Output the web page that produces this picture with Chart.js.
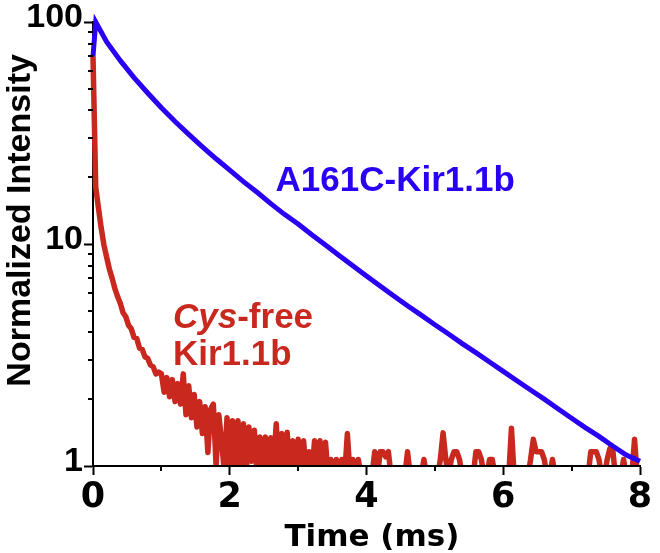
<!DOCTYPE html>
<html>
<head>
<meta charset="utf-8">
<script src="https://cdn.jsdelivr.net/npm/chart.js@4.4.1/dist/chart.umd.min.js"></script>
<style>
  html, body { margin: 0; padding: 0; background: #fff; }
  canvas { display: block; }
</style>
</head>
<body>
<canvas id="decayChart" width="660" height="553"></canvas>
<script>
// A161C-Kir1.1b (blue) - sample times in ms and normalized intensity
const blueTime = [0, 0.04, 0.2, 0.4, 0.6, 0.8, 1.0, 1.2, 1.4, 1.6, 1.8, 2.0, 2.2, 2.4, 2.6, 2.8,
    3.0, 3.2, 3.4, 3.6, 3.8, 4.0, 4.2, 4.4, 4.6, 4.8, 5.0, 5.2, 5.4, 5.6, 5.8,
    6.0, 6.2, 6.4, 6.6, 6.8, 7.0, 7.2, 7.4, 7.6, 7.8, 8.0];
const blueValues = [70, 100, 81.3, 67.0, 56.2, 47.9, 41.1, 35.6, 31.2, 27.4, 24.2, 21.5, 19.1, 17.1, 15.2, 13.6,
    12.3, 11.0, 9.89, 8.87, 7.98, 7.18, 6.47, 5.83, 5.27, 4.78, 4.33, 3.93, 3.56, 3.24, 2.94,
    2.67, 2.42, 2.20, 2.00, 1.81, 1.64, 1.49, 1.36, 1.23, 1.12, 1.05];

// Cys-free Kir1.1b (red) - sampled every 0.04 ms from 0 to 8 ms, one row per ms
const redStep = 0.04;
const redValues = [
    70, 18, 14.5, 11.8, 9.9, 8.7, 7.7, 7.0, 6.3, 5.8, 5.4, 4.9, 4.7, 4.3, 4.15, 3.8, 3.75, 3.4, 3.35, 3.1, 3.05, 2.85, 2.8, 2.6, 2.65,
    2.6, 2.15, 2.5, 2.05, 2.45, 1.95, 2.35, 1.9, 2.6, 1.7, 2.3, 1.65, 2.1, 1.5, 1.95, 1.4, 1.85, 1.15, 1.8, 1.9, 1.0, 1.7, 1.3, 0.95, 1.65,
    0.9, 1.6, 0.95, 1.6, 1.0, 1.55, 0.9, 1.5, 1.05, 1.45, 0.9, 1.35, 1.0, 1.35, 0.92, 1.34, 1.0, 1.55, 0.9, 1.4, 0.95, 1.42, 0.9, 1.3, 1.0,
    1.32, 0.9, 1.3, 0.9, 1.16, 0.9, 1.3, 1.0, 1.3, 0.9, 1.28, 0.9, 1.07, 0.9, 1.07, 0.9, 1.07, 0.9, 1.4, 0.9, 1.07, 0.9, 1.07, 0.9, 0.9,
    0.9, 0.9, 0.9, 1.16, 0.9, 1.16, 1.16, 1.1, 1.16, 0.9, 0.9, 0.9, 0.9, 0.9, 0.9, 1.16, 0.9, 0.9, 0.9, 0.9, 0.9, 1.07, 0.9, 0.9, 0.9,
    0.9, 0.9, 1.07, 1.41, 1.07, 0.9, 1.07, 1.16, 1.16, 1.07, 0.9, 0.9, 0.9, 0.9, 0.9, 1.16, 1.16, 1.07, 0.9, 0.9, 1.07, 1.07, 0.9, 0.9, 0.9,
    0.9, 0.9, 0.9, 1.48, 0.9, 0.9, 0.9, 0.9, 0.9, 0.9, 1.07, 1.32, 1.16, 1.16, 1.16, 1.07, 0.9, 0.9, 1.07, 0.9, 0.9, 0.9, 0.9, 0.9, 0.9,
    0.9, 0.9, 0.9, 0.9, 0.9, 0.9, 0.9, 1.16, 1.16, 1.16, 1.07, 0.9, 0.9, 1.07, 1.2, 1.2, 0.9, 0.9, 0.9, 1.07, 0.9, 0.9, 0.9, 1.32, 0.9, 0.9
];

const xTicks = [0, 2, 4, 6, 8];
const xMinorTicks = [1, 3, 5, 7];
const yTicks = [1, 10, 100];
const yMinorTicks = [2, 3, 4, 5, 6, 7, 8, 9, 20, 30, 40, 50, 60, 70, 80, 90];

const blueColor = '#2a00f5';
const redColor = '#c8281e';

// curve labels, placed in data units
const curveLabels = [
    { parts: [['A161C-Kir1.1b', 'bold']], x: 2.67, y: 17.4, color: blueColor },
    { parts: [['Cys', 'italic bold'], ['-free', 'bold']], x: 1.17, y: 4.17, color: redColor },
    { parts: [['Kir1.1b', 'bold']], x: 1.17, y: 2.85, color: redColor }
];

const bluePoints = blueTime.map((t, i) => ({ x: t, y: blueValues[i] }));
const redPoints = redValues.map((v, i) => ({ x: +(i * redStep).toFixed(2), y: v }));

const extraTicks = {
    id: 'extraTicks',
    afterDraw(chart) {
        const ctx = chart.ctx;
        const xs = chart.scales.x, ys = chart.scales.y;
        const area = chart.chartArea;
        ctx.save();
        ctx.strokeStyle = '#000';
        ctx.lineWidth = 2;
        ctx.beginPath();
        yMinorTicks.forEach(v => {
            const py = Math.round(ys.getPixelForValue(v));
            ctx.moveTo(area.left - 5, py);
            ctx.lineTo(area.left, py);
        });
        xMinorTicks.forEach(v => {
            const px = Math.round(xs.getPixelForValue(v));
            ctx.moveTo(px, area.bottom);
            ctx.lineTo(px, area.bottom + 5);
        });
        ctx.stroke();

        ctx.textBaseline = 'alphabetic';
        ctx.textAlign = 'left';
        curveLabels.forEach(lab => {
            let px = xs.getPixelForValue(lab.x);
            const py = ys.getPixelForValue(lab.y);
            ctx.fillStyle = lab.color;
            lab.parts.forEach(([txt, style]) => {
                ctx.font = style + " 35px 'Liberation Sans', Arial, sans-serif";
                ctx.fillText(txt, px, py);
                px += ctx.measureText(txt).width;
            });
        });
        ctx.restore();
    }
};

const ctx = document.getElementById('decayChart').getContext('2d');
const decayChart = new Chart(ctx, {
    type: 'line',
    data: {
        datasets: [{
            label: 'A161C-Kir1.1b',
            data: bluePoints,
            borderColor: blueColor,
            borderWidth: 5,
            pointRadius: 0,
            tension: 0,
            clip: { left: false, top: false, right: false, bottom: -1 }
        }, {
            label: 'Cys-free Kir1.1b',
            data: redPoints,
            borderColor: redColor,
            borderWidth: 5.5,
            borderJoinStyle: 'round',
            pointRadius: 0,
            tension: 0,
            clip: { left: false, top: false, right: false, bottom: -1 }
        }]
    },
    options: {
        responsive: false,
        animation: false,
        devicePixelRatio: 1,
        layout: { padding: { top: 22, right: 20, left: 0, bottom: 0 } },
        plugins: {
            legend: { display: false },
            tooltip: { enabled: false }
        },
        scales: {
            x: {
                type: 'linear',
                min: 0,
                max: 8,
                afterBuildTicks: s => { s.ticks = xTicks.map(v => ({ value: v })); },
                afterFit: s => { s.height = 87; },
                grid: { drawOnChartArea: false, tickLength: 9, tickWidth: 2, tickColor: '#000' },
                border: { color: '#000', width: 2 },
                ticks: {
                    color: '#000',
                    padding: 2,
                    maxRotation: 0,
                    font: { family: "'DejaVu Sans'", size: 35, weight: 'bold' }
                },
                title: {
                    display: true,
                    text: ' Time (ms)',
                    color: '#000',
                    padding: { top: 0, bottom: 0 },
                    font: { family: "'DejaVu Sans'", size: 31, weight: 'bold', lineHeight: 1.0 }
                }
            },
            y: {
                type: 'logarithmic',
                min: 1,
                max: 100,
                afterBuildTicks: s => { s.ticks = yTicks.map(v => ({ value: v })); },
                afterFit: s => { s.width = 93; },
                grid: { drawOnChartArea: false, tickLength: 9, tickWidth: 2, tickColor: '#000' },
                border: { color: '#000', width: 2 },
                ticks: {
                    color: '#000',
                    padding: 1,
                    labelOffset: -4,
                    callback: v => String(v),
                    font: { family: "'Liberation Sans'", size: 34, weight: 'bold' }
                },
                title: {
                    display: true,
                    text: '     Normalized Intensity',
                    color: '#000',
                    padding: 0,
                    font: { family: "'Liberation Sans'", size: 34, weight: 'bold' }
                }
            }
        }
    },
    plugins: [extraTicks]
});
</script>
</body>
</html>
